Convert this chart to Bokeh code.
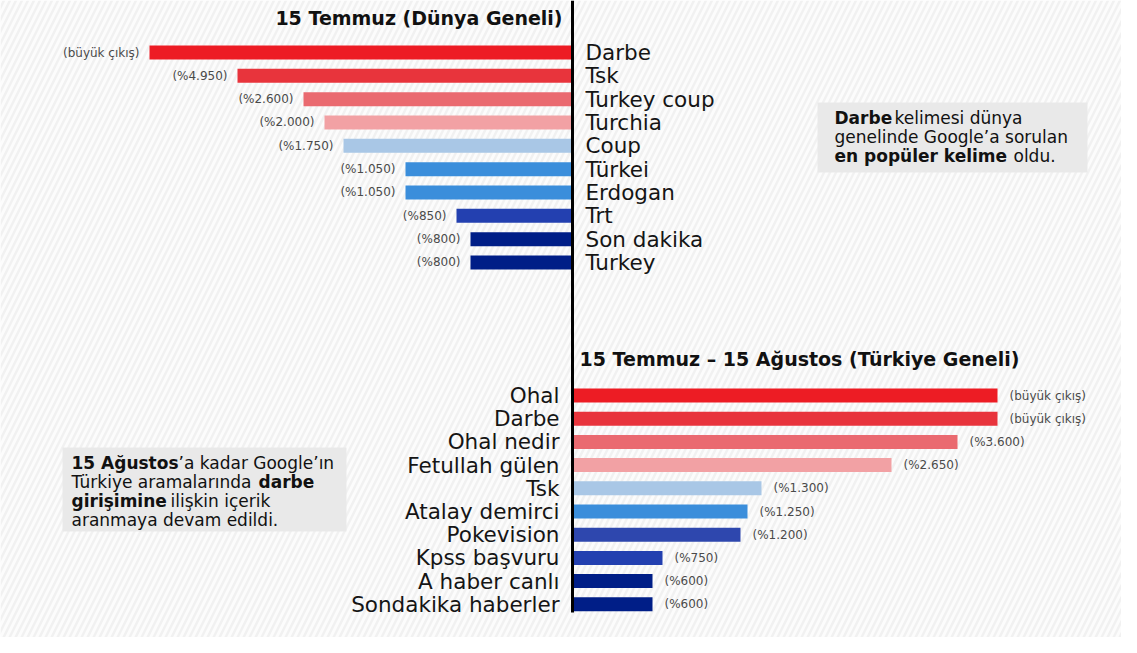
from bokeh.plotting import figure
from bokeh.models import Range1d, BoxAnnotation, Label, ColumnDataSource
from bokeh.core.properties import value
from bokeh.embed import file_html
from bokeh.resources import INLINE

# ---------------- data ----------------
top_terms = ["Darbe", "Tsk", "Turkey coup", "Turchia", "Coup", "Türkei",
             "Erdogan", "Trt", "Son dakika", "Turkey"]
top_value_labels = ["(büyük çıkış)", "(%4.950)", "(%2.600)", "(%2.000)", "(%1.750)",
                    "(%1.050)", "(%1.050)", "(%850)", "(%800)", "(%800)"]
top_bar_length = [423, 335, 269, 248, 229, 167, 167, 116, 102, 102]

bottom_terms = ["Ohal", "Darbe", "Ohal nedir", "Fetullah gülen", "Tsk",
                "Atalay demirci", "Pokevision", "Kpss başvuru", "A haber canlı",
                "Sondakika haberler"]
bottom_value_labels = ["(büyük çıkış)", "(büyük çıkış)", "(%3.600)", "(%2.650)",
                       "(%1.300)", "(%1.250)", "(%1.200)", "(%750)", "(%600)", "(%600)"]
bottom_bar_length = [425, 425, 385, 319, 189, 175, 168, 90, 80, 80]

top_title = "15 Temmuz (Dünya Geneli)"
bottom_title = "15 Temmuz – 15 Ağustos (Türkiye Geneli)"

# ---------------- styles ----------------
top_colors = ["#ED1C24", "#E8343C", "#EA6A70", "#F2A1A4", "#A9C7E6", "#3B8EDB",
              "#3B8EDB", "#2340B0", "#001E87", "#001E87"]
bottom_colors = ["#ED1C24", "#E8343C", "#EA6A70", "#F2A1A4", "#A9C7E6", "#3B8EDB",
                 "#2E47AE", "#2340B0", "#001E87", "#001E87"]
FONT = "DejaVu Sans"

W, H = 1121, 637
CX = 572  # centre line in picture pixels
p = figure(width=W, height=H, output_backend="svg", toolbar_location=None,
           x_range=Range1d(-CX, W - CX), y_range=Range1d(H, 0),
           min_border=0, outline_line_color=None, background_fill_color="#FCFCFC",
           border_fill_color="#FCFCFC")
p.axis.visible = False
p.grid.visible = False

# striped background
p.add_layout(BoxAnnotation(level="underlay", fill_alpha=0, line_alpha=0,
                           hatch_pattern="right_diagonal_line", hatch_color="#F1F1F1",
                           hatch_weight=2.5, hatch_scale=12, hatch_alpha=1.0))

# grey note boxes
p.add_layout(BoxAnnotation(level="underlay", left=817 - CX, right=1087 - CX, top=102, bottom=172,
                           fill_color="#E9E9E9", fill_alpha=1, line_alpha=0))
p.add_layout(BoxAnnotation(level="underlay", left=62 - CX, right=346 - CX, top=447, bottom=531,
                           fill_color="#E9E9E9", fill_alpha=1, line_alpha=0))

n = len(top_terms)
top_y = [52 + 23.33 * i for i in range(n)]
bot_y = [395 + 23.2 * i for i in range(len(bottom_terms))]

top_src = ColumnDataSource(dict(
    y=top_y, left=[-v for v in top_bar_length], right=[0] * n,
    term=top_terms, lab=top_value_labels, color=top_colors,
    lab_x=[-v - 10 for v in top_bar_length]))
bot_src = ColumnDataSource(dict(
    y=bot_y, left=[0] * len(bot_y), right=bottom_bar_length,
    term=bottom_terms, lab=bottom_value_labels, color=bottom_colors,
    lab_x=[v + 12 for v in bottom_bar_length]))

for src in (top_src, bot_src):
    p.hbar(y="y", left="left", right="right", height=14, fill_color="color",
           line_color=None, source=src)

# value labels
p.text(x="lab_x", y="y", text="lab", source=top_src, text_align="right",
       text_baseline="middle", text_font=value(FONT), text_font_size=value("12px"),
       text_color="#4A4A4A")
p.text(x="lab_x", y="y", text="lab", source=bot_src, text_align="left",
       text_baseline="middle", text_font=value(FONT), text_font_size=value("12px"),
       text_color="#4A4A4A")

# category labels
p.text(x=13, y="y", text="term", source=top_src, text_align="left",
       text_baseline="middle", text_font=value(FONT), text_font_size=value("21.5px"),
       text_color="#151515")
p.text(x=-13, y="y", text="term", source=bot_src, text_align="right",
       text_baseline="middle", text_font=value(FONT), text_font_size=value("21.5px"),
       text_color="#151515")

# centre line
p.segment(x0=[0], y0=[0], x1=[0], y1=[612], line_color="#000000", line_width=3)

# titles
p.add_layout(Label(x=-10, y=17, text=top_title, text_align="right", text_baseline="middle",
                   text_font=FONT, text_font_size="19px", text_font_style="bold",
                   text_color="#111111"))
p.add_layout(Label(x=7, y=358, text=bottom_title, text_align="left", text_baseline="middle",
                   text_font=FONT, text_font_size="19px", text_font_style="bold",
                   text_color="#111111"))

# note texts (mixed bold / normal pieces)
def note(x_img, y_img, txt, bold=False):
    p.add_layout(Label(x=x_img - CX, y=y_img, text=txt, text_align="left",
                       text_baseline="middle", text_font=FONT, text_font_size="17px",
                       text_font_style="bold" if bold else "normal",
                       text_color="#111111"))

note(834, 117, "Darbe", True)
note(894, 117, "kelimesi dünya")
note(834, 136, "genelinde Google’a sorulan")
note(834, 155, "en popüler kelime", True)
note(1013, 155, "oldu.")

note(71, 462, "15 Ağustos", True)
note(178, 462, "’a kadar Google’ın")
note(71, 481, "Türkiye aramalarında")
note(258, 481, "darbe", True)
note(71, 500, "girişimine", True)
note(170, 500, "ilişkin içerik")
note(71, 519, "aranmaya devam edildi.")

open("out.html", "w").write(file_html(p, INLINE))
